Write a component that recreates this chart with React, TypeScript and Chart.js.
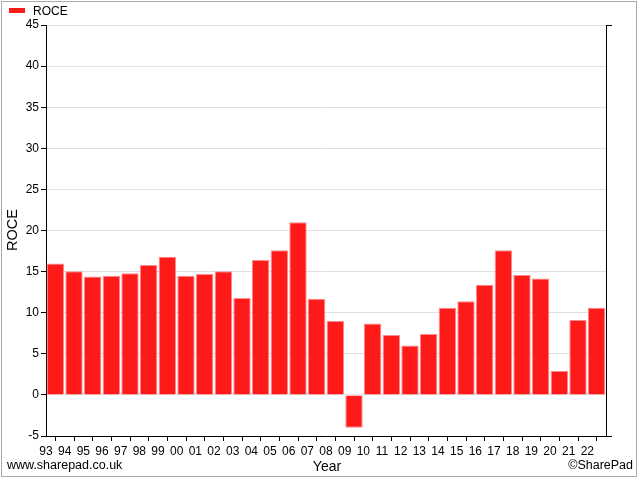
import React, { useEffect, useRef } from "react";
import { Chart, registerables } from "chart.js";

Chart.register(...registerables);

const years = ["93","94","95","96","97","98","99","00","01","02","03","04","05","06","07","08","09","10","11","12","13","14","15","16","17","18","19","20","21","22"];
const roce = [16.0, 15.05, 14.4, 14.5, 14.8, 15.8, 16.8, 14.5, 14.7, 15.05, 11.8, 16.4, 17.6, 21.0, 11.7, 9.0, -4.0, 8.7, 7.3, 6.0, 7.4, 10.6, 11.4, 13.4, 17.6, 14.6, 14.15, 2.9, 9.1, 10.6];
const yMin = -5;
const yMax = 45;
const yStep = 5;
const seriesName = "ROCE";
const xTitle = "Year";
const leftFooter = "www.sharepad.co.uk";
const rightFooter = "©SharePad";

const FONT = "'Liberation Sans', Arial, sans-serif";

const extras = {
  id: "extras",
  afterDraw(chart: any) {
    const ctx = chart.ctx;
    ctx.save();
    // outer border
    ctx.strokeStyle = "#aaaaaa";
    ctx.lineWidth = 1;
    ctx.strokeRect(1.5, 1.5, 635, 475);
    // legend
    ctx.fillStyle = "#ff1a1a";
    ctx.fillRect(9, 8, 16, 5);
    ctx.fillStyle = "#000";
    ctx.font = `12px ${FONT}`;
    ctx.textBaseline = "middle";
    ctx.textAlign = "left";
    ctx.fillText(seriesName, 33, 12);
    // footers
    ctx.font = `12.5px ${FONT}`;
    ctx.fillText(leftFooter, 7, 466);
    ctx.textAlign = "right";
    ctx.fillText(rightFooter, 633, 466);
    // x title
    ctx.font = `14px ${FONT}`;
    ctx.textAlign = "center";
    ctx.fillText(xTitle, 327, 467);
    // y title
    ctx.translate(13, 230);
    ctx.rotate(-Math.PI / 2);
    ctx.font = `14.5px ${FONT}`;
    ctx.fillText(seriesName, 0, 0);
    ctx.restore();
  },
};

export default function App() {
  const ref = useRef<HTMLCanvasElement>(null);
  useEffect(() => {
    if (!ref.current) return;
    Chart.defaults.font.family = FONT;
    const chart = new Chart(ref.current, {
      type: "bar",
      data: {
        datasets: [
          {
            label: seriesName,
            data: roce.map((v, i) => ({ x: i + 0.5, y: v })),
            backgroundColor: "#ff1a1a",
            borderColor: "#ff8c8c",
            borderWidth: 1,
            barPercentage: 0.93,
            categoryPercentage: 1,
          } as any,
        ],
      },
      options: {
        responsive: false,
        animation: false,
        layout: { padding: { top: 25, left: 0, right: 0, bottom: 0 } },
        plugins: { legend: { display: false }, tooltip: { enabled: false } },
        scales: {
          x: {
            type: "linear",
            min: 0,
            max: years.length,
            offset: false,
            afterBuildTicks: (s: any) => {
              s.ticks = Array.from({ length: years.length + 1 }, (_, i) => ({ value: i }));
            },
            afterFit: (s: any) => {
              s.height = 44;
            },
            ticks: {
              autoSkip: false,
              maxRotation: 0,
              minRotation: 0,
              padding: 3,
              color: "#000",
              font: { size: 12 },
              callback: (v: any) => years[v] ?? "",
            },
            grid: { drawOnChartArea: false, tickLength: 5, tickColor: "#000" },
            border: { color: "#000" },
          },
          y: {
            type: "linear",
            position: "left",
            min: yMin,
            max: yMax,
            afterFit: (s: any) => {
              s.width = 46;
            },
            ticks: { stepSize: yStep, color: "#000", font: { size: 12 }, padding: 2 },
            grid: { color: "#e0e0e0", tickColor: "#000", tickLength: 5 },
            border: { color: "#000" },
          },
          y2: {
            type: "linear",
            position: "right",
            min: yMin,
            max: yMax,
            afterBuildTicks: (s: any) => {
              s.ticks = [{ value: yMin }, { value: yMax }];
            },
            afterFit: (s: any) => {
              s.width = 34;
            },
            ticks: { callback: () => "" },
            grid: { drawOnChartArea: false, tickColor: "#000", tickLength: 6 },
            border: { color: "#000" },
          },
        },
      },
      plugins: [extras],
    });
    return () => chart.destroy();
  }, []);
  return (
    <div style={{ position: "fixed", left: 0, top: 0, width: 640, height: 480, background: "#fff" }}>
      <canvas ref={ref} width={640} height={480} style={{ display: "block" }} />
    </div>
  );
}
